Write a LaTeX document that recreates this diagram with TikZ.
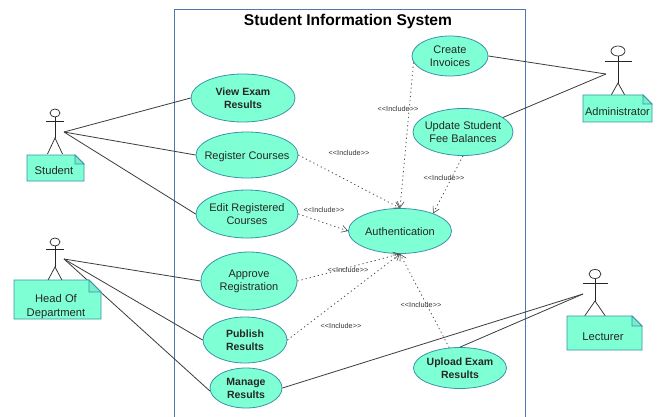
\documentclass[tikz,border=0pt]{standalone}
\usepackage{fontspec}
\setmainfont{Liberation Sans}
\usetikzlibrary{arrows.meta,shapes.geometric}
\definecolor{uc}{HTML}{7FFFD4}
\definecolor{ucb}{HTML}{3A94A6}
\definecolor{sysb}{HTML}{4F78AE}
\definecolor{ln}{HTML}{3C3C3C}
\tikzset{x=1pt,y=-1pt,
 usecase/.style={ellipse,draw=ucb,fill=uc,line width=0.8pt,inner sep=0pt},
 uctext/.style={align=center,inner sep=0pt,font=\fontsize{11}{13}\selectfont,text=black!85},
 ucbold/.style={font=\bfseries\fontsize{10.5}{13}\selectfont},
 assoc/.style={draw=ln,line width=0.8pt},
 incl/.style={draw=black!70,line width=0.8pt,dash pattern=on 1.2pt off 3pt,-{Straight Barb[length=6pt,width=7pt,line width=0.6pt]}},
 incllabel/.style={font=\fontsize{7.3}{8}\selectfont,inner sep=0pt,text=black!80},
 stick/.style={draw=black!85,line width=0.7pt},
 notebox/.style={draw=ucb,fill=uc,line width=0.9pt},
 notetext/.style={font=\fontsize{11.2}{14}\selectfont,align=center,inner sep=0pt,text=black!85},
 title/.style={font=\bfseries\fontsize{15.6}{18}\selectfont,inner sep=0pt}
}
\newcommand{\ucnode}[6]{\node[usecase,minimum width=#3pt,minimum height=#4pt] (#1) at #2 {};
 \node[uctext,#5] (#1t) at #2 {#6};}
\newcommand{\actor}[8]{% cx, heady, rx, ry, army, armhalf, hipy, legdx
 \draw[stick] (#1,#2) ellipse [x radius=#3pt,y radius=#4pt];
 \draw[stick] (#1-#6,#5) -- (#1+#6,#5);
 \draw[stick] (#1,#2+#4) -- (#1,#7);
 \draw[stick] (#1-#8,#7+16) -- (#1,#7) -- (#1+#8,#7+16);
}
\newcommand{\notebox}[5]{% x1,y1,x2,y2,fold
 \draw[notebox] (#1,#2) -- (#3-#5,#2) -- (#3,#2+#5) -- (#3,#4) -- (#1,#4) -- cycle;
 \draw[notebox,fill=uc!85!ucb] (#3-#5,#2) -- (#3-#5,#2+#5) -- (#3,#2+#5) -- cycle;
}
\begin{document}
\begin{tikzpicture}
\useasboundingbox (0,0) rectangle (661,417);
\fill[white] (0,0) rectangle (661,417);
\draw[draw=sysb,line width=0.8pt] (174.5,420) -- (174.5,9) -- (525,9) -- (525,420);
\node[title] (ttl) at (348,21.5) {Student Information System};

\coordinate (studentpt) at (64,132);
\coordinate (hodpt) at (64,259);
\coordinate (adminpt) at (606,74);
\coordinate (lectpt) at (583,294);

\ucnode{create}{(450,56)}{76}{40}{}{Create\\Invoices}
\ucnode{update}{(463,132)}{100}{47}{}{Update Student\\Fee Balances}
\ucnode{view}{(243,98)}{104}{48}{ucbold}{View Exam\\Results}
\ucnode{register}{(247,155)}{102}{46}{yshift=-1.5pt}{Register Courses}
\ucnode{edit}{(247,214)}{102}{48}{}{Edit Registered\\Courses}
\ucnode{auth}{(400,231)}{103}{45}{yshift=-1pt}{Authentication}
\ucnode{approve}{(249,281)}{96}{58}{}{Approve\\Registration}
\ucnode{publish}{(245,340)}{84}{46}{ucbold}{Publish\\Results}
\ucnode{manage}{(246,388)}{72}{40}{ucbold}{Manage\\Results}
\ucnode{upload}{(460,368)}{93}{41}{ucbold}{Upload Exam\\Results}

\draw[assoc] (studentpt) -- (view.west);
\draw[assoc] (studentpt) -- (register.west);
\draw[assoc] (studentpt) -- (edit.west);
\draw[assoc] (hodpt) -- (approve.west);
\draw[assoc] (hodpt) -- (publish.west);
\draw[assoc] (hodpt) -- (manage.185);
\draw[assoc] (adminpt) -- (create.east);
\draw[assoc] (adminpt) -- (update.20);
\draw[assoc] (lectpt) -- (manage.east);
\draw[assoc] (lectpt) -- (upload.north);

\draw[incl] (create.190) -- (auth.north);
\draw[incl] (update.south) -- (auth.28);
\draw[incl] (register.east) -- (auth.north);
\draw[incl] (edit.east) -- (auth.west);
\draw[incl] (approve.east) -- (auth.south);
\draw[incl] (publish.east) -- (auth.south);
\draw[incl] (upload.118) -- (auth.south);

\node[incllabel] (l1) at (398,109) {<{}<Include>{}>};
\node[incllabel] (l2) at (349,153) {<{}<Include>{}>};
\node[incllabel] (l3) at (324,210) {<{}<Include>{}>};
\node[incllabel] (l4) at (444,178) {<{}<Include>{}>};
\node[incllabel] (l5) at (348,270) {<{}<Include>{}>};
\node[incllabel] (l6) at (341,326) {<{}<Include>{}>};
\node[incllabel] (l7) at (421,305) {<{}<Include>{}>};

\actor{55}{113}{5}{4}{121}{9}{138}{7.5}
\notebox{27}{155}{84}{181}{9}
\node[notetext] (nstudent) at (54,170) {Student};
\actor{55}{242}{5}{4}{249}{9}{267}{8.5}
\notebox{14}{280}{101}{319}{12}
\node[notetext] (nhod) at (56,307) {Head Of\\Department};
\actor{618}{51}{7}{5}{61}{13.5}{83}{9}
\notebox{583}{95}{652}{122}{9}
\node[notetext,font=\fontsize{11}{14}\selectfont] (nadmin) at (617.5,112) {Administrator};
\actor{595}{274}{6}{4.5}{283}{12.5}{301}{11}
\notebox{567}{316}{642}{350}{10}
\node[notetext] (nlect) at (603,337) {Lecturer};
\end{tikzpicture}
\end{document}
